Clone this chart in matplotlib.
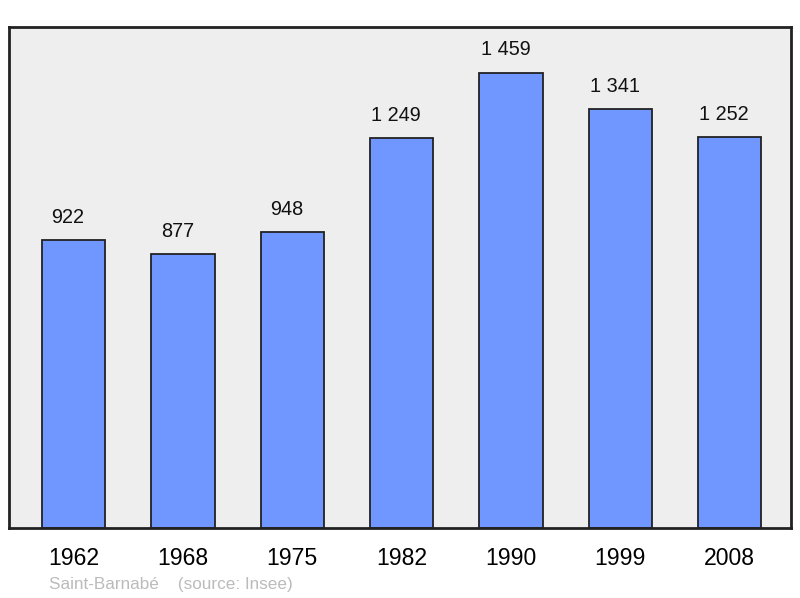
import matplotlib.pyplot as plt

plt.rcParams['font.family'] = ['Liberation Sans', 'DejaVu Sans']

years = ['1962', '1968', '1975', '1982', '1990', '1999', '2008']
population = [922, 877, 948, 1249, 1459, 1341, 1252]
labels = ['922', '877', '948', '1 249', '1 459', '1 341', '1 252']

fig = plt.figure(figsize=(8, 5.98), dpi=100)
ax = fig.add_axes([9 / 800, 70 / 598, 782 / 800, 501 / 598])
ax.set_facecolor('#eeeeee')

x = range(len(years))
ax.bar(x, population, width=0.58, color='#7097ff', edgecolor='#222222', linewidth=1.3, zorder=2)
for xi, v, lab in zip(x, population, labels):
    ax.annotate(lab, (xi, v), xytext=(-4, 9.5), textcoords='offset points',
                ha='center', va='bottom', fontsize=14.3, color='#111111')

ax.set_xlim(-0.59, 6.56)
ax.set_ylim(0, max(population) * 1.1)
ax.set_yticks([])
ax.set_xticks(list(x))
ax.set_xticklabels(years, fontsize=16.6)
ax.tick_params(axis='x', length=0, pad=14)
for s in ax.spines.values():
    s.set_linewidth(2)
    s.set_color('#222222')

fig.text(49 / 800, 1 - 584 / 598, 'Saint-Barnabé    (source: Insee)', fontsize=12.3,
         color='#bbbbbb', va='center', ha='left')

fig.savefig('out.png')
